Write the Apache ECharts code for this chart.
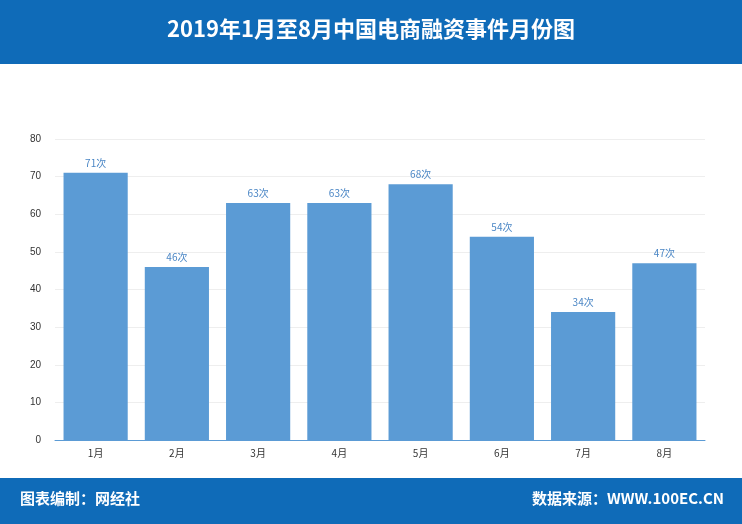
<!DOCTYPE html>
<html><head><meta charset="utf-8">
<script src="https://cdn.jsdelivr.net/npm/echarts@6/dist/echarts.min.js"></script>
<style>html,body{margin:0;padding:0;background:#fff}#c{width:742px;height:524px}</style>
</head><body><div id="c"></div>
<script>
const categories = ['1月','2月','3月','4月','5月','6月','7月','8月'];
const values = [71,46,63,63,68,54,34,47];
const title = '2019年1月至8月中国电商融资事件月份图';
const footLeft = '图表编制：网经社';
const footRight = '数据来源：WWW.100EC.CN';
const chart = echarts.init(document.getElementById('c'));
const font = '"Noto Sans CJK SC", sans-serif';
chart.setOption({
  animation:false,
  graphic:[
    {type:'rect',left:0,top:0,shape:{width:742,height:64},style:{fill:'#0f6bb8'}},
    {type:'text',left:'center',top:18,style:{text:title,fill:'#fff',font:'bold 22px '+font}},
    {type:'rect',left:0,top:478,shape:{width:742,height:46},style:{fill:'#0f6bb8'}},
    {type:'text',left:20,top:491,style:{text:footLeft,fill:'#fff',font:'bold 15px '+font}},
    {type:'text',right:18,top:491,style:{text:footRight,fill:'#fff',font:'bold 15px '+font}}
  ],
  grid:{left:55,right:37,top:139,bottom:84},
  xAxis:{type:'category',data:categories,axisTick:{show:false},
    axisLine:{lineStyle:{color:'#5b9bd5'}},axisLabel:{color:'#333',fontSize:10,fontFamily:font}},
  yAxis:{type:'value',min:0,max:80,interval:10,axisLine:{show:false},axisTick:{show:false},
    axisLabel:{color:'#333',fontSize:10,margin:14},splitLine:{lineStyle:{color:'#eee'}}},
  series:[{type:'bar',data:values,barCategoryGap:'21%',itemStyle:{color:'#5b9bd5'},
    label:{show:true,position:'top',formatter:'{c}次',color:'#4a86c5',fontSize:10,fontFamily:font}}]
});
</script></body></html>
